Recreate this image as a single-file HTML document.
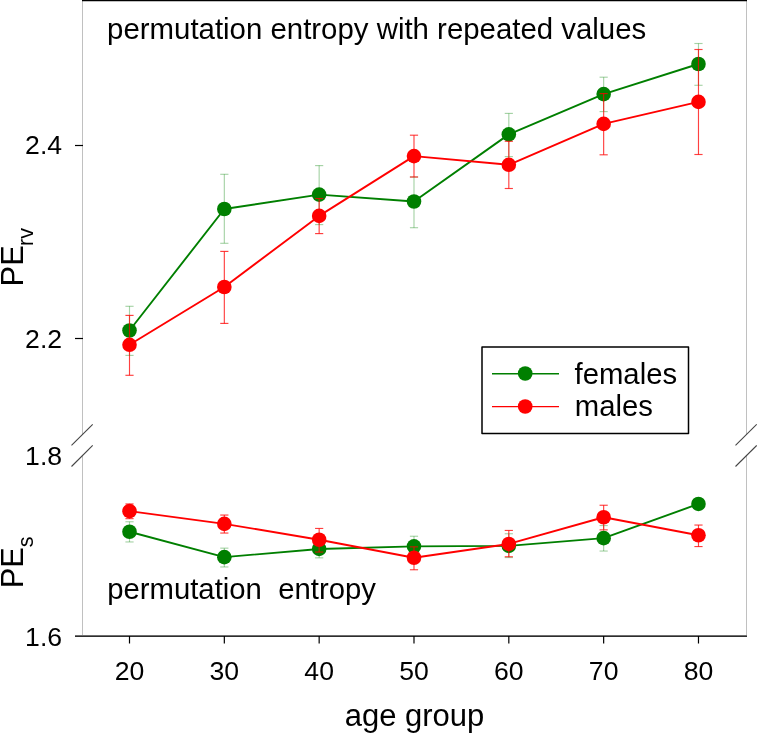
<!DOCTYPE html>
<html><head><meta charset="utf-8"><style>
html,body{margin:0;padding:0;background:#fff;}
body{width:757px;height:733px;overflow:hidden;}
svg{display:block;will-change:transform;}
text{font-family:"Liberation Sans", sans-serif;fill:#000;}
</style></head><body>
<svg width="757" height="733" viewBox="0 0 757 733">
<line x1="82.5" y1="0" x2="82.5" y2="635" stroke="#c0c0c0" stroke-width="1"/>
<line x1="746.5" y1="0" x2="746.5" y2="635" stroke="#c0c0c0" stroke-width="1"/>
<line x1="82" y1="0.5" x2="747" y2="0.5" stroke="#000" stroke-width="1.5"/>
<rect x="75" y="635" width="672" height="1" fill="#6e6e6e"/><rect x="75" y="636" width="672" height="1" fill="#2e2e2e"/>
<polygon points="71.5,445.4 92.7,424.3 92.7,445.4 71.5,466.5" fill="#fff"/>
<line x1="71.5" y1="445.4" x2="92.7" y2="424.3" stroke="#444" stroke-width="1.1"/>
<line x1="71.5" y1="466.5" x2="92.7" y2="445.4" stroke="#444" stroke-width="1.1"/>
<polygon points="735.5,445.4 756.7,424.3 756.7,445.4 735.5,466.5" fill="#fff"/>
<line x1="735.5" y1="445.4" x2="756.7" y2="424.3" stroke="#444" stroke-width="1.1"/>
<line x1="735.5" y1="466.5" x2="756.7" y2="445.4" stroke="#444" stroke-width="1.1"/>
<line x1="75" y1="145.5" x2="83" y2="145.5" stroke="#000" stroke-width="1.2"/>
<line x1="75" y1="338.5" x2="83" y2="338.5" stroke="#000" stroke-width="1.2"/>
<line x1="129.50" y1="636" x2="129.50" y2="643.5" stroke="#000" stroke-width="1.2"/>
<line x1="224.33" y1="636" x2="224.33" y2="643.5" stroke="#000" stroke-width="1.2"/>
<line x1="319.16" y1="636" x2="319.16" y2="643.5" stroke="#000" stroke-width="1.2"/>
<line x1="413.99" y1="636" x2="413.99" y2="643.5" stroke="#000" stroke-width="1.2"/>
<line x1="508.82" y1="636" x2="508.82" y2="643.5" stroke="#000" stroke-width="1.2"/>
<line x1="603.65" y1="636" x2="603.65" y2="643.5" stroke="#000" stroke-width="1.2"/>
<line x1="698.48" y1="636" x2="698.48" y2="643.5" stroke="#000" stroke-width="1.2"/>
<line x1="129.50" y1="306.3" x2="129.50" y2="355.4" stroke="rgba(0,128,0,0.35)" stroke-width="1.15"/><line x1="125.40" y1="306.3" x2="133.60" y2="306.3" stroke="rgba(0,128,0,0.35)" stroke-width="1.15"/><line x1="125.40" y1="355.4" x2="133.60" y2="355.4" stroke="rgba(0,128,0,0.35)" stroke-width="1.15"/><line x1="224.33" y1="174.3" x2="224.33" y2="243.3" stroke="rgba(0,128,0,0.35)" stroke-width="1.15"/><line x1="220.23" y1="174.3" x2="228.43" y2="174.3" stroke="rgba(0,128,0,0.35)" stroke-width="1.15"/><line x1="220.23" y1="243.3" x2="228.43" y2="243.3" stroke="rgba(0,128,0,0.35)" stroke-width="1.15"/><line x1="319.16" y1="165.6" x2="319.16" y2="224.6" stroke="rgba(0,128,0,0.35)" stroke-width="1.15"/><line x1="315.06" y1="165.6" x2="323.26" y2="165.6" stroke="rgba(0,128,0,0.35)" stroke-width="1.15"/><line x1="315.06" y1="224.6" x2="323.26" y2="224.6" stroke="rgba(0,128,0,0.35)" stroke-width="1.15"/><line x1="413.99" y1="177" x2="413.99" y2="227.7" stroke="rgba(0,128,0,0.35)" stroke-width="1.15"/><line x1="409.89" y1="177" x2="418.09" y2="177" stroke="rgba(0,128,0,0.35)" stroke-width="1.15"/><line x1="409.89" y1="227.7" x2="418.09" y2="227.7" stroke="rgba(0,128,0,0.35)" stroke-width="1.15"/><line x1="508.82" y1="113.4" x2="508.82" y2="156.6" stroke="rgba(0,128,0,0.35)" stroke-width="1.15"/><line x1="504.72" y1="113.4" x2="512.92" y2="113.4" stroke="rgba(0,128,0,0.35)" stroke-width="1.15"/><line x1="504.72" y1="156.6" x2="512.92" y2="156.6" stroke="rgba(0,128,0,0.35)" stroke-width="1.15"/><line x1="603.65" y1="77.2" x2="603.65" y2="111.6" stroke="rgba(0,128,0,0.35)" stroke-width="1.15"/><line x1="599.55" y1="77.2" x2="607.75" y2="77.2" stroke="rgba(0,128,0,0.35)" stroke-width="1.15"/><line x1="599.55" y1="111.6" x2="607.75" y2="111.6" stroke="rgba(0,128,0,0.35)" stroke-width="1.15"/><line x1="698.48" y1="43.5" x2="698.48" y2="85.3" stroke="rgba(0,128,0,0.35)" stroke-width="1.15"/><line x1="694.38" y1="43.5" x2="702.58" y2="43.5" stroke="rgba(0,128,0,0.35)" stroke-width="1.15"/><line x1="694.38" y1="85.3" x2="702.58" y2="85.3" stroke="rgba(0,128,0,0.35)" stroke-width="1.15"/>
<line x1="129.50" y1="521.75" x2="129.50" y2="541.9499999999999" stroke="rgba(0,128,0,0.35)" stroke-width="1.15"/><line x1="125.40" y1="521.75" x2="133.60" y2="521.75" stroke="rgba(0,128,0,0.35)" stroke-width="1.15"/><line x1="125.40" y1="541.9499999999999" x2="133.60" y2="541.9499999999999" stroke="rgba(0,128,0,0.35)" stroke-width="1.15"/><line x1="224.33" y1="548.15" x2="224.33" y2="566.9499999999999" stroke="rgba(0,128,0,0.35)" stroke-width="1.15"/><line x1="220.23" y1="548.15" x2="228.43" y2="548.15" stroke="rgba(0,128,0,0.35)" stroke-width="1.15"/><line x1="220.23" y1="566.9499999999999" x2="228.43" y2="566.9499999999999" stroke="rgba(0,128,0,0.35)" stroke-width="1.15"/><line x1="319.16" y1="540.05" x2="319.16" y2="557.8499999999999" stroke="rgba(0,128,0,0.35)" stroke-width="1.15"/><line x1="315.06" y1="540.05" x2="323.26" y2="540.05" stroke="rgba(0,128,0,0.35)" stroke-width="1.15"/><line x1="315.06" y1="557.8499999999999" x2="323.26" y2="557.8499999999999" stroke="rgba(0,128,0,0.35)" stroke-width="1.15"/><line x1="413.99" y1="536.25" x2="413.99" y2="555.4499999999999" stroke="rgba(0,128,0,0.35)" stroke-width="1.15"/><line x1="409.89" y1="536.25" x2="418.09" y2="536.25" stroke="rgba(0,128,0,0.35)" stroke-width="1.15"/><line x1="409.89" y1="555.4499999999999" x2="418.09" y2="555.4499999999999" stroke="rgba(0,128,0,0.35)" stroke-width="1.15"/><line x1="508.82" y1="533.75" x2="508.82" y2="557.55" stroke="rgba(0,128,0,0.35)" stroke-width="1.15"/><line x1="504.72" y1="533.75" x2="512.92" y2="533.75" stroke="rgba(0,128,0,0.35)" stroke-width="1.15"/><line x1="504.72" y1="557.55" x2="512.92" y2="557.55" stroke="rgba(0,128,0,0.35)" stroke-width="1.15"/><line x1="603.65" y1="525.55" x2="603.65" y2="551.05" stroke="rgba(0,128,0,0.35)" stroke-width="1.15"/><line x1="599.55" y1="525.55" x2="607.75" y2="525.55" stroke="rgba(0,128,0,0.35)" stroke-width="1.15"/><line x1="599.55" y1="551.05" x2="607.75" y2="551.05" stroke="rgba(0,128,0,0.35)" stroke-width="1.15"/><line x1="698.48" y1="498.55" x2="698.48" y2="509.55" stroke="rgba(0,128,0,0.35)" stroke-width="1.15"/><line x1="694.38" y1="498.55" x2="702.58" y2="498.55" stroke="rgba(0,128,0,0.35)" stroke-width="1.15"/><line x1="694.38" y1="509.55" x2="702.58" y2="509.55" stroke="rgba(0,128,0,0.35)" stroke-width="1.15"/>
<polyline points="129.50,330.5 224.33,209 319.16,194.6 413.99,201.5 508.82,134.4 603.65,94.1 698.48,64" fill="none" stroke="#007f00" stroke-width="1.9" stroke-linejoin="round"/><circle cx="129.50" cy="330.5" r="7.3" fill="#007f00"/><circle cx="224.33" cy="209" r="7.3" fill="#007f00"/><circle cx="319.16" cy="194.6" r="7.3" fill="#007f00"/><circle cx="413.99" cy="201.5" r="7.3" fill="#007f00"/><circle cx="508.82" cy="134.4" r="7.3" fill="#007f00"/><circle cx="603.65" cy="94.1" r="7.3" fill="#007f00"/><circle cx="698.48" cy="64" r="7.3" fill="#007f00"/>
<polyline points="129.50,531.75 224.33,557.15 319.16,548.9499999999999 413.99,546.3499999999999 508.82,545.8499999999999 603.65,538.15 698.48,503.95" fill="none" stroke="#007f00" stroke-width="1.9" stroke-linejoin="round"/><circle cx="129.50" cy="531.75" r="7.3" fill="#007f00"/><circle cx="224.33" cy="557.15" r="7.3" fill="#007f00"/><circle cx="319.16" cy="548.9499999999999" r="7.3" fill="#007f00"/><circle cx="413.99" cy="546.3499999999999" r="7.3" fill="#007f00"/><circle cx="508.82" cy="545.8499999999999" r="7.3" fill="#007f00"/><circle cx="603.65" cy="538.15" r="7.3" fill="#007f00"/><circle cx="698.48" cy="503.95" r="7.3" fill="#007f00"/>
<line x1="129.50" y1="315.4" x2="129.50" y2="375.3" stroke="rgba(255,0,0,0.75)" stroke-width="1.15"/><line x1="125.40" y1="315.4" x2="133.60" y2="315.4" stroke="rgba(255,0,0,0.75)" stroke-width="1.15"/><line x1="125.40" y1="375.3" x2="133.60" y2="375.3" stroke="rgba(255,0,0,0.75)" stroke-width="1.15"/><line x1="224.33" y1="251.4" x2="224.33" y2="323.4" stroke="rgba(255,0,0,0.75)" stroke-width="1.15"/><line x1="220.23" y1="251.4" x2="228.43" y2="251.4" stroke="rgba(255,0,0,0.75)" stroke-width="1.15"/><line x1="220.23" y1="323.4" x2="228.43" y2="323.4" stroke="rgba(255,0,0,0.75)" stroke-width="1.15"/><line x1="319.16" y1="198.5" x2="319.16" y2="233.6" stroke="rgba(255,0,0,0.75)" stroke-width="1.15"/><line x1="315.06" y1="198.5" x2="323.26" y2="198.5" stroke="rgba(255,0,0,0.75)" stroke-width="1.15"/><line x1="315.06" y1="233.6" x2="323.26" y2="233.6" stroke="rgba(255,0,0,0.75)" stroke-width="1.15"/><line x1="413.99" y1="135.2" x2="413.99" y2="177" stroke="rgba(255,0,0,0.75)" stroke-width="1.15"/><line x1="409.89" y1="135.2" x2="418.09" y2="135.2" stroke="rgba(255,0,0,0.75)" stroke-width="1.15"/><line x1="409.89" y1="177" x2="418.09" y2="177" stroke="rgba(255,0,0,0.75)" stroke-width="1.15"/><line x1="508.82" y1="141.3" x2="508.82" y2="188.5" stroke="rgba(255,0,0,0.75)" stroke-width="1.15"/><line x1="504.72" y1="141.3" x2="512.92" y2="141.3" stroke="rgba(255,0,0,0.75)" stroke-width="1.15"/><line x1="504.72" y1="188.5" x2="512.92" y2="188.5" stroke="rgba(255,0,0,0.75)" stroke-width="1.15"/><line x1="603.65" y1="93.6" x2="603.65" y2="154.8" stroke="rgba(255,0,0,0.75)" stroke-width="1.15"/><line x1="599.55" y1="93.6" x2="607.75" y2="93.6" stroke="rgba(255,0,0,0.75)" stroke-width="1.15"/><line x1="599.55" y1="154.8" x2="607.75" y2="154.8" stroke="rgba(255,0,0,0.75)" stroke-width="1.15"/><line x1="698.48" y1="49.5" x2="698.48" y2="154.5" stroke="rgba(255,0,0,0.75)" stroke-width="1.15"/><line x1="694.38" y1="49.5" x2="702.58" y2="49.5" stroke="rgba(255,0,0,0.75)" stroke-width="1.15"/><line x1="694.38" y1="154.5" x2="702.58" y2="154.5" stroke="rgba(255,0,0,0.75)" stroke-width="1.15"/>
<line x1="129.50" y1="503.95" x2="129.50" y2="518.6500000000001" stroke="rgba(255,0,0,0.75)" stroke-width="1.15"/><line x1="125.40" y1="503.95" x2="133.60" y2="503.95" stroke="rgba(255,0,0,0.75)" stroke-width="1.15"/><line x1="125.40" y1="518.6500000000001" x2="133.60" y2="518.6500000000001" stroke="rgba(255,0,0,0.75)" stroke-width="1.15"/><line x1="224.33" y1="515.0500000000001" x2="224.33" y2="533.0500000000001" stroke="rgba(255,0,0,0.75)" stroke-width="1.15"/><line x1="220.23" y1="515.0500000000001" x2="228.43" y2="515.0500000000001" stroke="rgba(255,0,0,0.75)" stroke-width="1.15"/><line x1="220.23" y1="533.0500000000001" x2="228.43" y2="533.0500000000001" stroke="rgba(255,0,0,0.75)" stroke-width="1.15"/><line x1="319.16" y1="528.45" x2="319.16" y2="552.0500000000001" stroke="rgba(255,0,0,0.75)" stroke-width="1.15"/><line x1="315.06" y1="528.45" x2="323.26" y2="528.45" stroke="rgba(255,0,0,0.75)" stroke-width="1.15"/><line x1="315.06" y1="552.0500000000001" x2="323.26" y2="552.0500000000001" stroke="rgba(255,0,0,0.75)" stroke-width="1.15"/><line x1="413.99" y1="546.85" x2="413.99" y2="569.75" stroke="rgba(255,0,0,0.75)" stroke-width="1.15"/><line x1="409.89" y1="546.85" x2="418.09" y2="546.85" stroke="rgba(255,0,0,0.75)" stroke-width="1.15"/><line x1="409.89" y1="569.75" x2="418.09" y2="569.75" stroke="rgba(255,0,0,0.75)" stroke-width="1.15"/><line x1="508.82" y1="530.45" x2="508.82" y2="556.75" stroke="rgba(255,0,0,0.75)" stroke-width="1.15"/><line x1="504.72" y1="530.45" x2="512.92" y2="530.45" stroke="rgba(255,0,0,0.75)" stroke-width="1.15"/><line x1="504.72" y1="556.75" x2="512.92" y2="556.75" stroke="rgba(255,0,0,0.75)" stroke-width="1.15"/><line x1="603.65" y1="505.25" x2="603.65" y2="529.85" stroke="rgba(255,0,0,0.75)" stroke-width="1.15"/><line x1="599.55" y1="505.25" x2="607.75" y2="505.25" stroke="rgba(255,0,0,0.75)" stroke-width="1.15"/><line x1="599.55" y1="529.85" x2="607.75" y2="529.85" stroke="rgba(255,0,0,0.75)" stroke-width="1.15"/><line x1="698.48" y1="525.0500000000001" x2="698.48" y2="546.5500000000001" stroke="rgba(255,0,0,0.75)" stroke-width="1.15"/><line x1="694.38" y1="525.0500000000001" x2="702.58" y2="525.0500000000001" stroke="rgba(255,0,0,0.75)" stroke-width="1.15"/><line x1="694.38" y1="546.5500000000001" x2="702.58" y2="546.5500000000001" stroke="rgba(255,0,0,0.75)" stroke-width="1.15"/>
<polyline points="129.50,344.8 224.33,287 319.16,215.9 413.99,156.1 508.82,164.8 603.65,123.9 698.48,101.9" fill="none" stroke="#ff0000" stroke-width="1.9" stroke-linejoin="round"/><circle cx="129.50" cy="344.8" r="7.3" fill="#ff0000"/><circle cx="224.33" cy="287" r="7.3" fill="#ff0000"/><circle cx="319.16" cy="215.9" r="7.3" fill="#ff0000"/><circle cx="413.99" cy="156.1" r="7.3" fill="#ff0000"/><circle cx="508.82" cy="164.8" r="7.3" fill="#ff0000"/><circle cx="603.65" cy="123.9" r="7.3" fill="#ff0000"/><circle cx="698.48" cy="101.9" r="7.3" fill="#ff0000"/>
<polyline points="129.50,511.15 224.33,523.85 319.16,539.75 413.99,557.75 508.82,543.95 603.65,517.25 698.48,535.25" fill="none" stroke="#ff0000" stroke-width="1.9" stroke-linejoin="round"/><circle cx="129.50" cy="511.15" r="7.3" fill="#ff0000"/><circle cx="224.33" cy="523.85" r="7.3" fill="#ff0000"/><circle cx="319.16" cy="539.75" r="7.3" fill="#ff0000"/><circle cx="413.99" cy="557.75" r="7.3" fill="#ff0000"/><circle cx="508.82" cy="543.95" r="7.3" fill="#ff0000"/><circle cx="603.65" cy="517.25" r="7.3" fill="#ff0000"/><circle cx="698.48" cy="535.25" r="7.3" fill="#ff0000"/>
<rect x="482" y="347" width="206.5" height="86.5" fill="none" stroke="#000" stroke-width="1.5" stroke-linejoin="round"/>
<line x1="492" y1="373.8" x2="559" y2="373.8" stroke="#007f00" stroke-width="1.4"/>
<circle cx="525.2" cy="373.5" r="7.35" fill="#007f00"/>
<line x1="492" y1="406.6" x2="559" y2="406.6" stroke="#ff0000" stroke-width="1.4"/>
<circle cx="525.2" cy="406.5" r="7.35" fill="#ff0000"/>
<text x="107.1" y="38.8" font-size="29.4" text-anchor="start" >permutation entropy with repeated values</text>
<text x="107.2" y="599.4" font-size="29.3" text-anchor="start" xml:space="preserve">permutation&#160;&#160;entropy</text>
<text x="574.5" y="383.8" font-size="29.3" text-anchor="start" >females</text>
<text x="574.8" y="415.8" font-size="29.3" text-anchor="start" >males</text>
<text x="62.1" y="154.4" font-size="26.6" text-anchor="end" >2.4</text>
<text x="62.1" y="347.7" font-size="26.6" text-anchor="end" >2.2</text>
<text x="62.1" y="465.1" font-size="26.6" text-anchor="end" >1.8</text>
<text x="62.1" y="645.5" font-size="26.6" text-anchor="end" >1.6</text>
<text x="129.50" y="679.7" font-size="26.6" text-anchor="middle" >20</text>
<text x="224.33" y="679.7" font-size="26.6" text-anchor="middle" >30</text>
<text x="319.16" y="679.7" font-size="26.6" text-anchor="middle" >40</text>
<text x="413.99" y="679.7" font-size="26.6" text-anchor="middle" >50</text>
<text x="508.82" y="679.7" font-size="26.6" text-anchor="middle" >60</text>
<text x="603.65" y="679.7" font-size="26.6" text-anchor="middle" >70</text>
<text x="698.48" y="679.7" font-size="26.6" text-anchor="middle" >80</text>
<text x="414.5" y="726.2" font-size="31" text-anchor="middle" >age group</text>
<g transform="translate(22.6,286.4) rotate(-90)"><text x="0" y="0" font-size="30.8">PE</text><text x="40.4" y="10.6" font-size="21.5">rv</text></g>
<g transform="translate(22.6,588.3) rotate(-90)"><text x="0" y="0" font-size="30.8">PE</text><text x="41" y="10.6" font-size="21.5">s</text></g>
</svg></body></html>
